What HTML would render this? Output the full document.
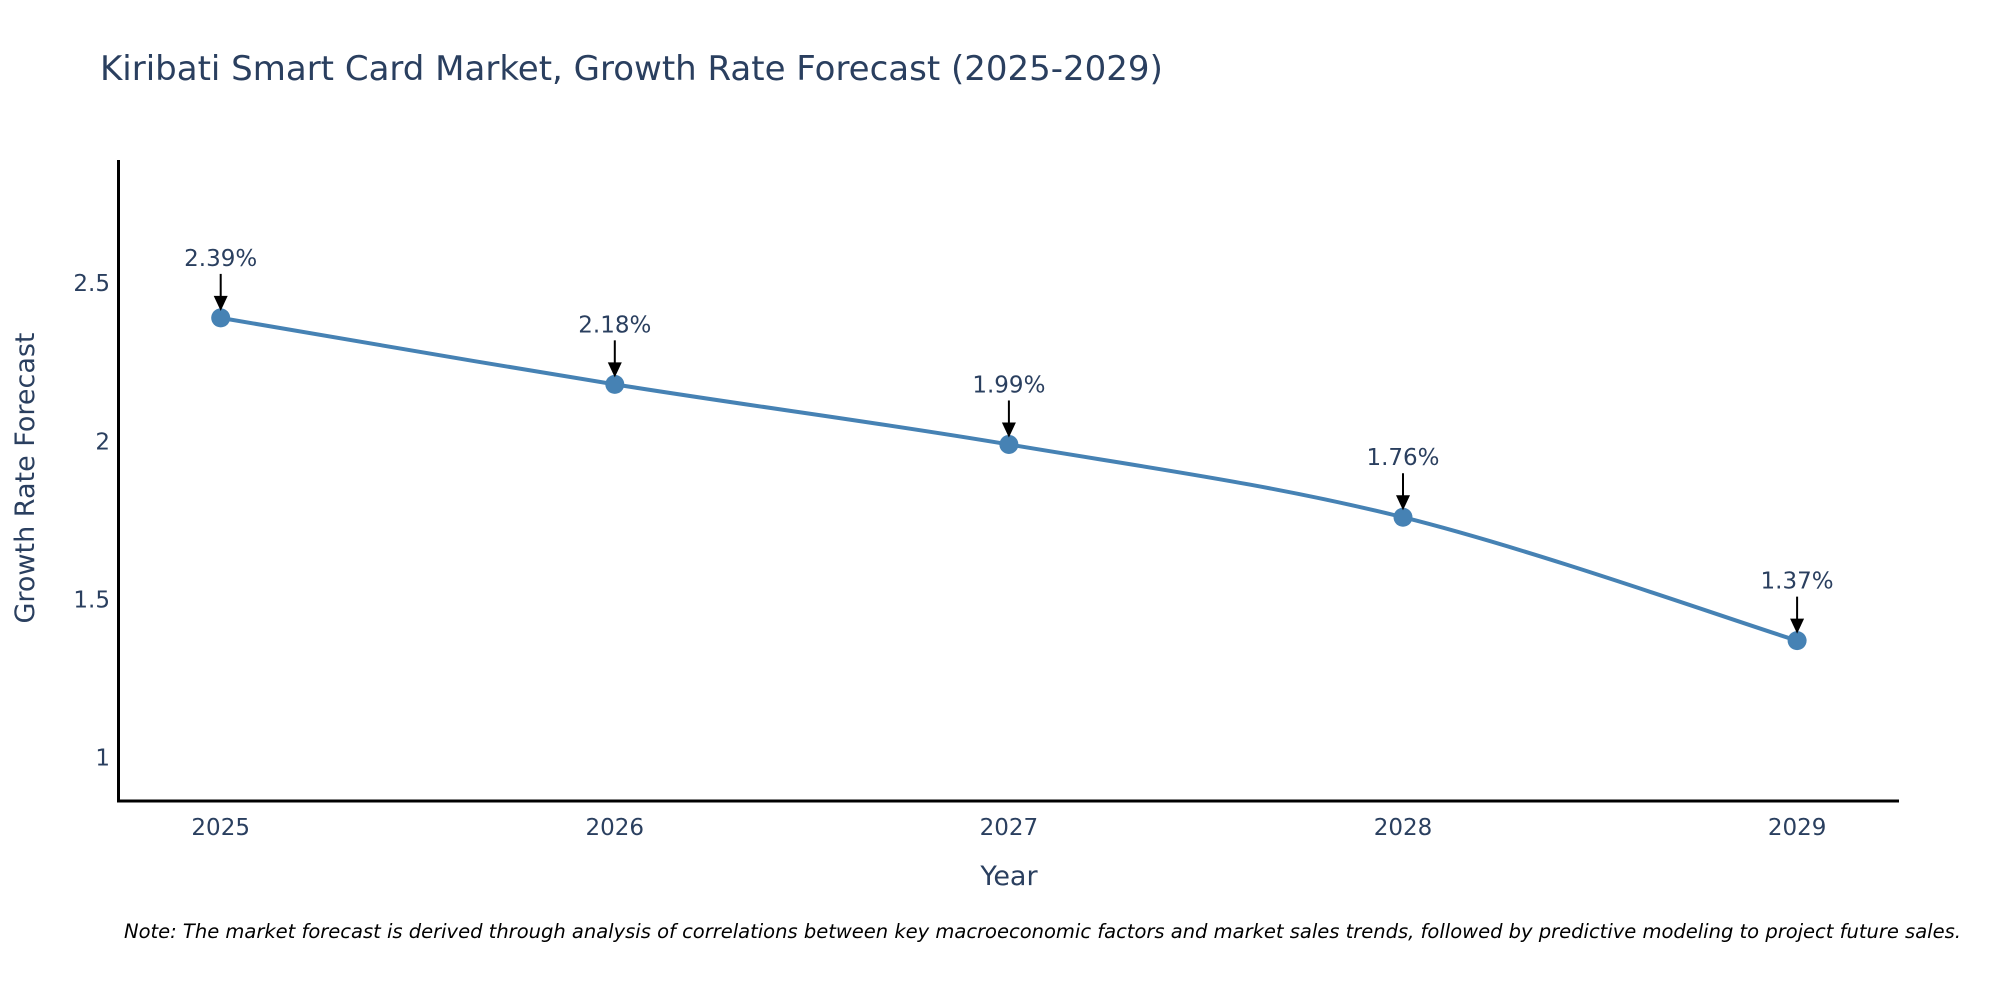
<!DOCTYPE html>
<html><head><meta charset="utf-8"><style>
body{margin:0;background:#fff;}
svg{display:block;font-family:"DejaVu Sans","Liberation Sans",sans-serif;}
</style></head><body>
<svg id="chart" width="2000" height="1000">
<text x="100" y="80" font-size="34" fill="#2a3f5f">Kiribati Smart Card Market, Growth Rate Forecast (2025-2029)</text>
<g id="ticks"></g>
<g id="plot"></g>
<line x1="118.5" y1="160" x2="118.5" y2="802" stroke="#000" stroke-width="3"/>
<line x1="117" y1="801" x2="1899" y2="801" stroke="#000" stroke-width="3"/>
<text x="1009" y="885" font-size="27" fill="#2a3f5f" text-anchor="middle">Year</text>
<text transform="translate(34,478) rotate(-90)" font-size="27" fill="#2a3f5f" text-anchor="middle">Growth Rate Forecast</text>
<text x="124" y="938" font-size="19.5" font-style="italic" fill="#000">Note: The market forecast is derived through analysis of correlations between key macroeconomic factors and market sales trends, followed by predictive modeling to project future sales.</text>
</svg>
<script>
const years=[2025,2026,2027,2028,2029];
const values=[2.39,2.18,1.99,1.76,1.37];
const labels=["2.39%","2.18%","1.99%","1.76%","1.37%"];
const yTicks=[1,1.5,2,2.5];
const NS="http://www.w3.org/2000/svg";
const x=v=>220.7+(v-2025)*394.1;
const y=v=>757.7-(v-1)*316.4;
function mk(tag,attrs,parent){const e=document.createElementNS(NS,tag);for(const k in attrs)e.setAttribute(k,attrs[k]);parent.appendChild(e);return e;}
const ticks=document.getElementById('ticks'),plot=document.getElementById('plot');
yTicks.forEach(t=>{const e=mk('text',{x:110,y:y(t)+8,'font-size':23,fill:'#2a3f5f','text-anchor':'end'},ticks);e.textContent=String(t);

});
years.forEach(t=>{const e=mk('text',{x:x(t),y:835,'font-size':23,fill:'#2a3f5f','text-anchor':'middle'},ticks);e.textContent=String(t);

});
const pts=years.map((yr,i)=>[x(yr),y(values[i])]);
let d=`M${pts[0][0]},${pts[0][1]}`;
for(let i=0;i<pts.length-1;i++){const p0=pts[Math.max(0,i-1)],p1=pts[i],p2=pts[i+1],p3=pts[Math.min(pts.length-1,i+2)];const t=0.17;
d+=` C${p1[0]+(p2[0]-p0[0])*t},${p1[1]+(p2[1]-p0[1])*t} ${p2[0]-(p3[0]-p1[0])*t},${p2[1]-(p3[1]-p1[1])*t} ${p2[0]},${p2[1]}`;}
const line=mk('path',{d:d,fill:'none',stroke:'#4682b4','stroke-width':4},plot);


pts.forEach((p,i)=>{
const c=mk('circle',{cx:p[0],cy:p[1],r:9.5,fill:'#4682b4'},plot);


const a=mk('line',{x1:p[0],y1:p[1]-44,x2:p[0],y2:p[1]-20,stroke:'#000','stroke-width':2},plot);


const h=mk('polygon',{points:`${p[0]-7},${p[1]-22} ${p[0]+7},${p[1]-22} ${p[0]},${p[1]-7}`,fill:'#000'},plot);


const tx=mk('text',{x:p[0],y:p[1]-52,'font-size':23,fill:'#2a3f5f','text-anchor':'middle'},plot);tx.textContent=labels[i];


});
</script>
</body></html>
